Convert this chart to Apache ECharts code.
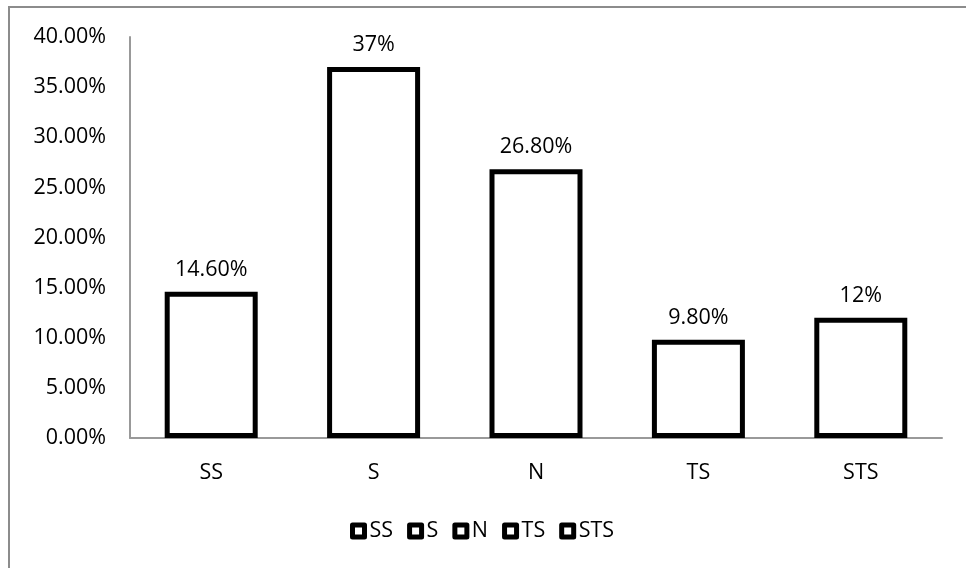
<!DOCTYPE html>
<html>
<head>
<meta charset="utf-8">
<script src="https://cdn.jsdelivr.net/npm/echarts@6/dist/echarts.min.js"></script>
<style>
  html, body { margin: 0; padding: 0; background: #fff; }
  #chart { width: 966px; height: 568px; }
</style>
</head>
<body>
<div id="chart"></div>
<script>
// Response categories and their shares (percent)
const categories = ['SS', 'S', 'N', 'TS', 'STS'];
const values = [14.6, 37, 26.8, 9.8, 12];
const valueLabels = ['14.60%', '37%', '26.80%', '9.80%', '12%'];
const yTicks = { min: 0, max: 40, interval: 5 };

const font = 'Open Sans';
const fontSize = 21.5;

// One series per category so each gets its own legend entry; bars overlap at their slot.
const series = categories.map((name, i) => ({
  name: name,
  type: 'bar',
  barWidth: 93,
  barGap: '-100%',
  itemStyle: { color: '#fff', borderColor: '#000', borderWidth: 5 },
  label: {
    show: true,
    position: 'top',
    distance: 11,
    color: '#000',
    fontFamily: font,
    fontSize: fontSize,
    formatter: () => valueLabels[i]
  },
  data: values.map((v, j) => (j === i ? v : '-'))
}));

const chart = echarts.init(document.getElementById('chart'));
chart.setOption({
  animation: false,
  backgroundColor: '#fff',
  textStyle: { fontFamily: font },
  graphic: [{
    type: 'rect',
    shape: { x: 9, y: 7, width: 1000, height: 600 },
    style: { fill: 'none', stroke: '#8c8c8c', lineWidth: 2 },
    silent: true
  }],
  grid: { left: 130, right: 24, top: 37, bottom: 130 },
  legend: {
    left: 350,
    top: 520,
    padding: 0,
    itemWidth: 12,
    itemHeight: 12,
    itemGap: 14,
    icon: 'rect',
    textStyle: { color: '#000', fontSize: fontSize, fontFamily: font },
    itemStyle: { color: '#fff', borderColor: '#000', borderWidth: 5, borderJoin: 'round' },
    data: categories
  },
  xAxis: {
    type: 'category',
    data: categories,
    axisLine: { lineStyle: { color: '#999', width: 2 } },
    axisTick: { show: false },
    axisLabel: { color: '#000', fontSize: fontSize, fontFamily: font, margin: 24 }
  },
  yAxis: {
    type: 'value',
    min: yTicks.min,
    max: yTicks.max,
    interval: yTicks.interval,
    axisLine: { show: true, lineStyle: { color: '#999', width: 2 } },
    axisTick: { show: false },
    splitLine: { show: false },
    axisLabel: {
      color: '#000', fontSize: fontSize, fontFamily: font, margin: 24,
      formatter: v => v.toFixed(2) + '%'
    }
  },
  series: series
});
</script>
</body>
</html>
